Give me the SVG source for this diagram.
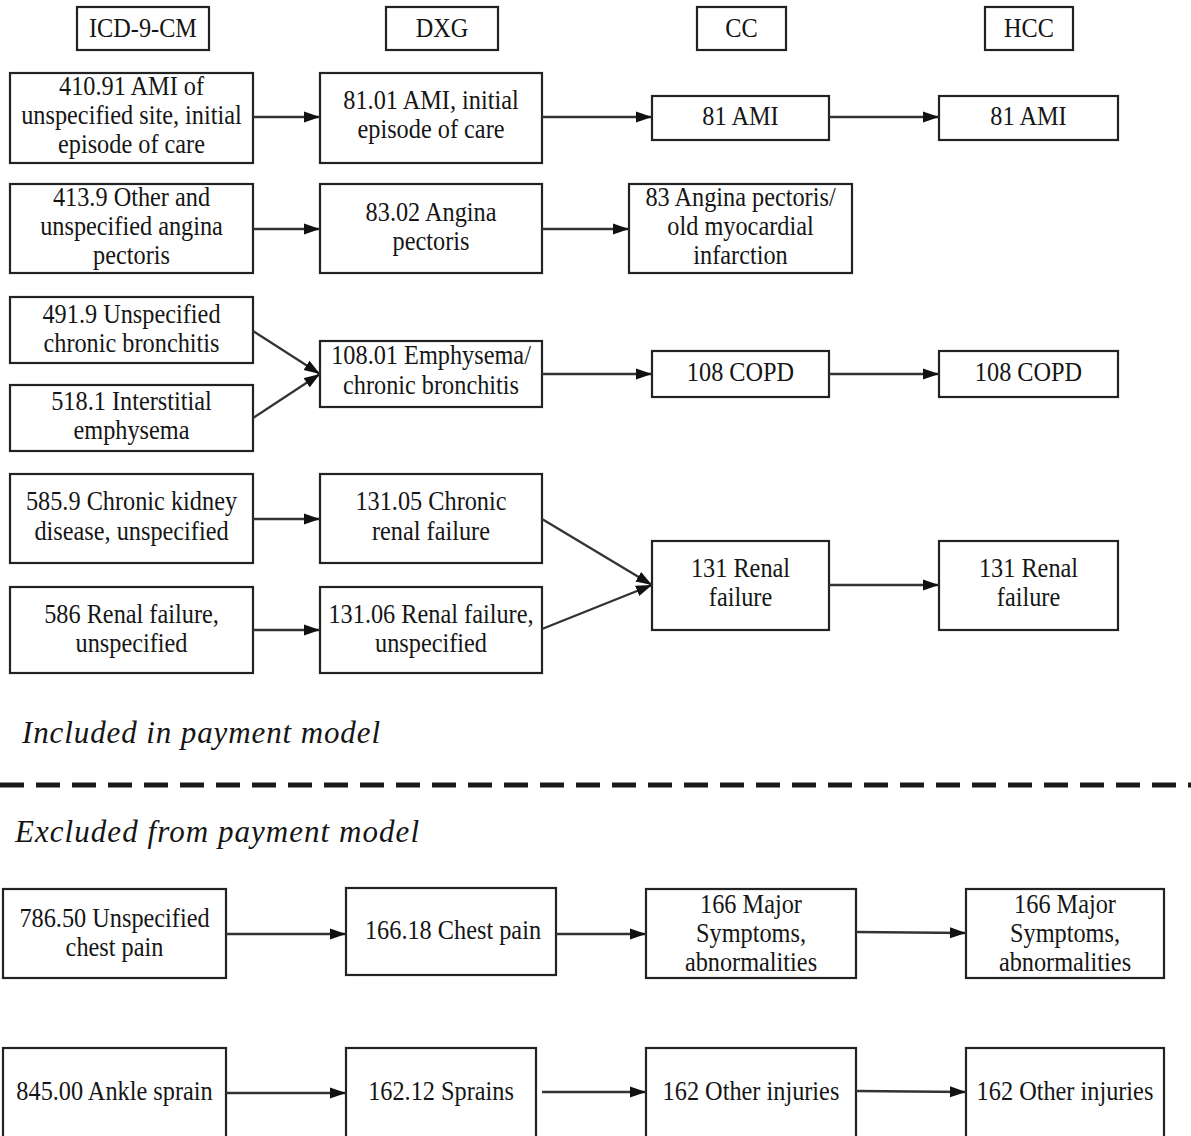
<svg xmlns="http://www.w3.org/2000/svg" width="1191" height="1136" viewBox="0 0 1191 1136">
<style>
.box{fill:#fff;stroke:#222;stroke-width:2.2}
.t{font-family:"Liberation Serif","Times New Roman",serif;font-size:27px;fill:#151515;text-anchor:middle;transform-box:fill-box;transform-origin:center;transform:scaleX(0.9)}
.lab{font-family:"Liberation Serif","Times New Roman",serif;font-style:italic;font-size:31px;fill:#151515}
.c{stroke:#333;stroke-width:2.3;fill:none;marker-end:url(#ah)}
</style>
<defs>
<marker id="ah" markerUnits="userSpaceOnUse" markerWidth="17" markerHeight="12" refX="16" refY="6" orient="auto">
<path d="M0,0.5 L16,6 L0,11.5 Z" fill="#111"/>
</marker>
</defs>
<rect width="1191" height="1136" fill="#fff"/>

<g id="hdr-icd"><rect class="box" x="77" y="7" width="132" height="43"/><text class="t" x="143" y="37">ICD-9-CM</text></g>
<g id="hdr-dxg"><rect class="box" x="386" y="7" width="112" height="43"/><text class="t" x="442" y="37">DXG</text></g>
<g id="hdr-cc"><rect class="box" x="697" y="7" width="89" height="43"/><text class="t" x="741.5" y="37">CC</text></g>
<g id="hdr-hcc"><rect class="box" x="985" y="7" width="88" height="43"/><text class="t" x="1029" y="37">HCC</text></g>

<g id="n410"><rect class="box" x="10" y="73" width="243" height="90"/><text class="t" x="131.5" y="95">410.91 AMI of</text><text class="t" x="131.5" y="124">unspecified site, initial</text><text class="t" x="131.5" y="153">episode of care</text></g>
<g id="n8101"><rect class="box" x="320" y="73" width="222" height="90"/><text class="t" x="431" y="109">81.01 AMI, initial</text><text class="t" x="431" y="138">episode of care</text></g>
<g id="cc81"><rect class="box" x="652" y="96" width="177" height="44"/><text class="t" x="740.5" y="125">81 AMI</text></g>
<g id="hcc81"><rect class="box" x="939" y="96" width="179" height="44"/><text class="t" x="1028.5" y="125">81 AMI</text></g>

<g id="n413"><rect class="box" x="10" y="184" width="243" height="89"/><text class="t" x="131.5" y="206">413.9 Other and</text><text class="t" x="131.5" y="235">unspecified angina</text><text class="t" x="131.5" y="264">pectoris</text></g>
<g id="n8302"><rect class="box" x="320" y="184" width="222" height="89"/><text class="t" x="431" y="221">83.02 Angina</text><text class="t" x="431" y="250">pectoris</text></g>
<g id="cc83"><rect class="box" x="629" y="184" width="223" height="89"/><text class="t" x="740.5" y="206">83 Angina pectoris/</text><text class="t" x="740.5" y="235">old myocardial</text><text class="t" x="740.5" y="264">infarction</text></g>

<g id="n491"><rect class="box" x="10" y="297" width="243" height="66"/><text class="t" x="131.5" y="323">491.9 Unspecified</text><text class="t" x="131.5" y="352">chronic bronchitis</text></g>
<g id="n518"><rect class="box" x="10" y="385" width="243" height="66"/><text class="t" x="131.5" y="410">518.1 Interstitial</text><text class="t" x="131.5" y="439">emphysema</text></g>
<g id="n10801"><rect class="box" x="320" y="341" width="222" height="66"/><text class="t" x="431" y="364">108.01 Emphysema/</text><text class="t" x="431" y="394">chronic bronchitis</text></g>
<g id="cc108"><rect class="box" x="652" y="351" width="177" height="46"/><text class="t" x="740.5" y="381">108 COPD</text></g>
<g id="hcc108"><rect class="box" x="939" y="351" width="179" height="46"/><text class="t" x="1028.5" y="381">108 COPD</text></g>

<g id="n585"><rect class="box" x="10" y="474" width="243" height="89"/><text class="t" x="131.5" y="510">585.9 Chronic kidney</text><text class="t" x="131.5" y="540">disease, unspecified</text></g>
<g id="n13105"><rect class="box" x="320" y="474" width="222" height="89"/><text class="t" x="431" y="510">131.05 Chronic</text><text class="t" x="431" y="540">renal failure</text></g>
<g id="n586"><rect class="box" x="10" y="587" width="243" height="86"/><text class="t" x="131.5" y="623">586 Renal failure,</text><text class="t" x="131.5" y="652">unspecified</text></g>
<g id="n13106"><rect class="box" x="320" y="587" width="222" height="86"/><text class="t" x="431" y="623">131.06 Renal failure,</text><text class="t" x="431" y="652">unspecified</text></g>
<g id="cc131"><rect class="box" x="652" y="541" width="177" height="89"/><text class="t" x="740.5" y="577">131 Renal</text><text class="t" x="740.5" y="606">failure</text></g>
<g id="hcc131"><rect class="box" x="939" y="541" width="179" height="89"/><text class="t" x="1028.5" y="577">131 Renal</text><text class="t" x="1028.5" y="606">failure</text></g>

<text class="lab" x="22" y="743" textLength="358" lengthAdjust="spacing">Included in payment model</text>
<line x1="0" y1="785" x2="1191" y2="785" stroke="#1a1a1a" stroke-width="5" stroke-dasharray="24 12"/>
<text class="lab" x="15" y="842" textLength="404" lengthAdjust="spacing">Excluded from payment model</text>

<g id="n786"><rect class="box" x="3" y="889" width="223" height="89"/><text class="t" x="114.5" y="927">786.50 Unspecified</text><text class="t" x="114.5" y="956">chest pain</text></g>
<g id="n16618"><rect class="box" x="346" y="888" width="210" height="87"/><text class="t" x="453" y="939">166.18 Chest pain</text></g>
<g id="cc166"><rect class="box" x="646" y="889" width="210" height="89"/><text class="t" x="751" y="913">166 Major</text><text class="t" x="751" y="942">Symptoms,</text><text class="t" x="751" y="971">abnormalities</text></g>
<g id="hcc166"><rect class="box" x="966" y="889" width="198" height="89"/><text class="t" x="1065" y="913">166 Major</text><text class="t" x="1065" y="942">Symptoms,</text><text class="t" x="1065" y="971">abnormalities</text></g>

<g id="n845"><rect class="box" x="3" y="1048" width="223" height="100"/><text class="t" x="114.5" y="1100">845.00 Ankle sprain</text></g>
<g id="n16212"><rect class="box" x="346" y="1048" width="190" height="100"/><text class="t" x="441" y="1100">162.12 Sprains</text></g>
<g id="cc162"><rect class="box" x="646" y="1048" width="210" height="100"/><text class="t" x="751" y="1100">162 Other injuries</text></g>
<g id="hcc162"><rect class="box" x="966" y="1048" width="198" height="100"/><text class="t" x="1065" y="1100">162 Other injuries</text></g>

<g id="connectors">
<line class="c" x1="253" y1="117" x2="320" y2="117"/>
<line class="c" x1="542" y1="117" x2="652" y2="117"/>
<line class="c" x1="829" y1="117" x2="939" y2="117"/>
<line class="c" x1="253" y1="229" x2="320" y2="229"/>
<line class="c" x1="542" y1="229" x2="629" y2="229"/>
<line class="c" x1="253" y1="331" x2="320" y2="374"/>
<line class="c" x1="253" y1="418" x2="320" y2="374"/>
<line class="c" x1="542" y1="374" x2="652" y2="374"/>
<line class="c" x1="829" y1="374" x2="939" y2="374"/>
<line class="c" x1="253" y1="519" x2="320" y2="519"/>
<line class="c" x1="253" y1="630" x2="320" y2="630"/>
<line class="c" x1="542" y1="519" x2="652" y2="585"/>
<line class="c" x1="542" y1="629" x2="652" y2="585"/>
<line class="c" x1="829" y1="585" x2="939" y2="585"/>
<line class="c" x1="226" y1="934" x2="346" y2="934"/>
<line class="c" x1="556" y1="934" x2="646" y2="934"/>
<line class="c" x1="856" y1="932" x2="966" y2="933"/>
<line class="c" x1="226" y1="1093" x2="346" y2="1093"/>
<line class="c" x1="542" y1="1092" x2="646" y2="1092"/>
<line class="c" x1="856" y1="1091" x2="966" y2="1092"/>
</g>
</svg>
